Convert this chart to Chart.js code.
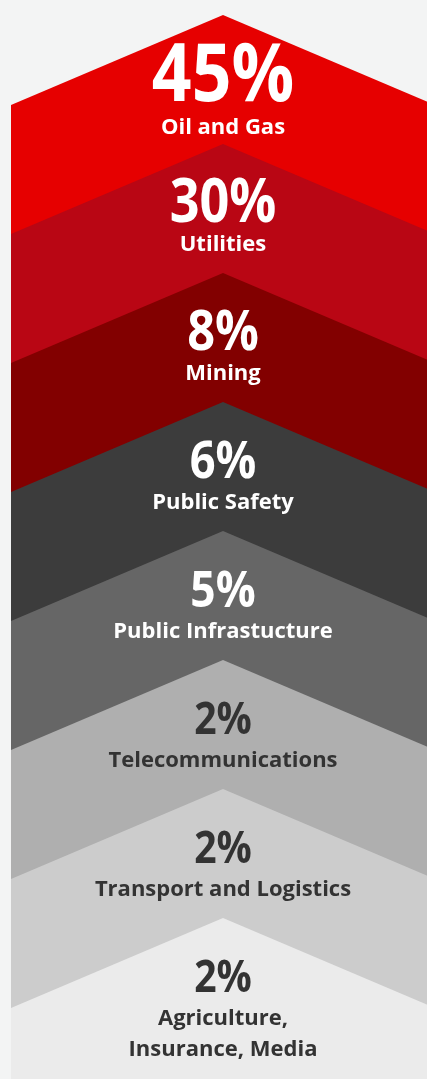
<!DOCTYPE html>
<html lang="en">
<head>
<meta charset="UTF-8">
<script src="https://cdn.jsdelivr.net/npm/chart.js"></script>
<title>Industry share</title>
<style>
  html, body { margin: 0; padding: 0; overflow: hidden; background: #f3f4f4; }
  #wrap { position: absolute; left: 11px; top: 0; width: 424px; height: 1079px; }
</style>
</head>
<body>
<div id="wrap"><canvas id="chevrons" width="424" height="1079"></canvas></div>
<script>
// data
const sectors = ['Oil and Gas', 'Utilities', 'Mining', 'Public Safety', 'Public Infrastucture',
  'Telecommunications', 'Transport and Logistics', 'Agriculture,\nInsurance, Media'];
const shares = [45, 30, 8, 6, 5, 2, 2, 2];

// styles
const fills = ['#e60000', '#b90614', '#820000', '#3c3c3c', '#666666', '#afafaf', '#cccccc', '#ebebeb'];
const textColors = ['#fff', '#fff', '#fff', '#fff', '#fff', '#333', '#333', '#333'];
const numSizes = [80, 60, 56, 52, 51, 45, 45, 45];
const DEPTH = 0.698;       // how far the chevron arms drop, in band units
const Y_MIN = -0.116, Y_MAX = 8.248;

const datasets = sectors.map((s, i) => ({
  label: s,
  data: [{ x: -1, y: i + DEPTH }, { x: 0, y: i }, { x: 1, y: i + DEPTH }],
  backgroundColor: fills[i],
  borderWidth: 0,
  pointRadius: 0,
  tension: 0,
  fill: { value: Y_MAX },
  order: sectors.length - i
}));

const labelsPlugin = {
  id: 'chevronLabels',
  afterDatasetsDraw(chart) {
    const ctx = chart.ctx;
    const xs = chart.scales.x, ys = chart.scales.y;
    ctx.textAlign = 'center';
    ctx.textBaseline = 'middle';
    sectors.forEach((s, i) => {
      const cx = xs.getPixelForValue(0);
      const peak = ys.getPixelForValue(i);
      ctx.fillStyle = textColors[i];
      // big number, a bit condensed like the original typeface
      ctx.save();
      ctx.translate(cx, peak + (i === 0 ? 63 : 61));
      ctx.scale(0.87, 1);
      ctx.font = '700 ' + numSizes[i] + 'px "Open Sans"';
      ctx.fillText(shares[i] + '%', 0, 0);
      ctx.restore();
      ctx.font = '700 22px "Open Sans"';
      s.split('\n').forEach((line, j) => {
        ctx.fillText(line, cx, peak + (i === 0 ? 113 : 101) + j * 31);
      });
    });
  }
};

new Chart(document.getElementById('chevrons'), {
  type: 'line',
  data: { datasets: datasets },
  options: {
    responsive: false,
    animation: false,
    layout: { padding: 0 },
    plugins: { legend: { display: false }, tooltip: { enabled: false } },
    scales: {
      x: { type: 'linear', min: -1, max: 1, display: false },
      y: { type: 'linear', min: Y_MIN, max: Y_MAX, reverse: true, display: false }
    }
  },
  plugins: [labelsPlugin]
});
</script>
</body>
</html>
